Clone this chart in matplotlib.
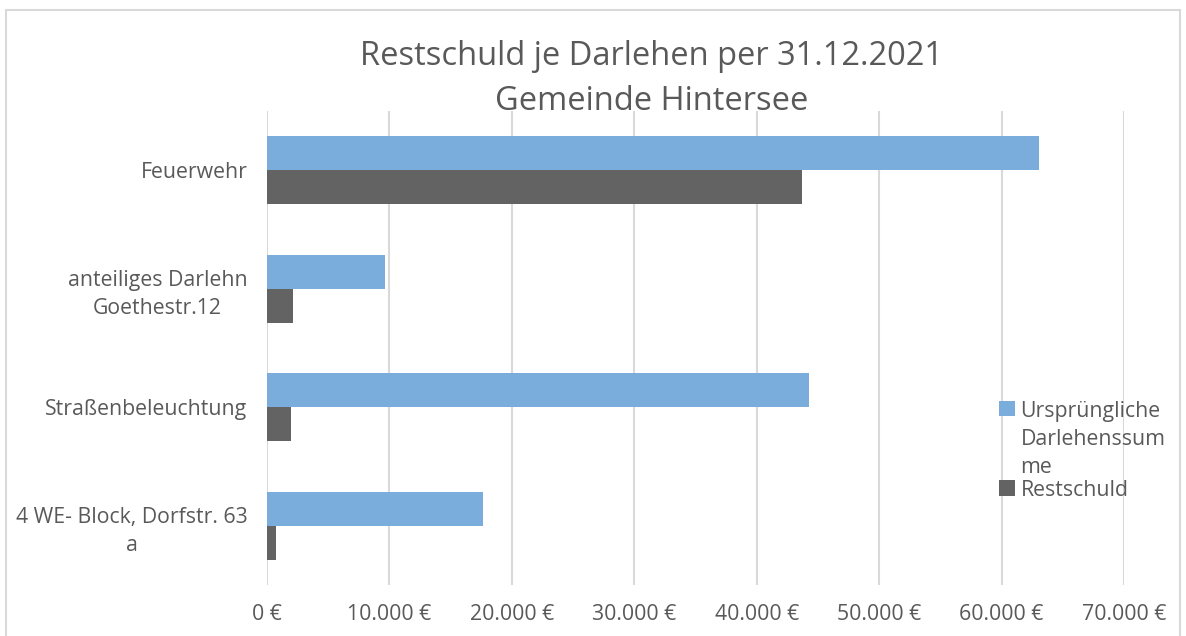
import matplotlib
matplotlib.use("Agg")
import matplotlib.pyplot as plt
import numpy as np
from matplotlib.patches import Rectangle

plt.rcParams["font.family"] = ["Open Sans", "DejaVu Sans"]

# Daten (von unten nach oben)
kategorien = ["4 WE- Block, Dorfstr. 63\na", "Straßenbeleuchtung",
              "anteiliges Darlehn\nGoethestr.12", "Feuerwehr"]
urspruenglich = [17640, 44300, 9650, 63040]
restschuld = [740, 1960, 2150, 43700]
serien = ["Ursprüngliche\nDarlehenssum\nme", "Restschuld"]
x_ticks = [0, 10000, 20000, 30000, 40000, 50000, 60000, 70000]

blau = "#7aaddc"
grau = "#636363"
textfarbe = "#595959"

fig = plt.figure(figsize=(11.86, 6.36), dpi=100)
fig.patches.append(Rectangle((6 / 1186, -0.05), 1174 / 1186, 1.05 - 10 / 636,
                             transform=fig.transFigure, fill=False,
                             edgecolor="#d9d9d9", linewidth=1.5))

ax = fig.add_axes([267 / 1186, 51 / 636, 857 / 1186, 474 / 636])

y = np.arange(len(kategorien))
h = 0.287
ax.barh(y + h / 2, urspruenglich, height=h, color=blau, label=serien[0], zorder=3)
ax.barh(y - h / 2, restschuld, height=h, color=grau, label=serien[1], zorder=3)

ax.set_xlim(0, 70000)
ax.set_ylim(-0.5, len(kategorien) - 0.5)
ax.set_xticks(x_ticks)
ax.set_xticklabels([f"{v:,}".replace(",", ".") + " €" for v in x_ticks])
ax.set_yticks(y)
ax.set_yticklabels(kategorien, multialignment="center", linespacing=1.45)
ax.grid(axis="x", color="#d9d9d9", linewidth=1.5, zorder=0)
for s in ax.spines.values():
    s.set_visible(False)
ax.tick_params(axis="both", length=0, labelsize=15.3, colors=textfarbe)
ax.tick_params(axis="x", pad=14)
ax.tick_params(axis="y", pad=14)

fig.text(652 / 1186, 1 - 79 / 636, "Restschuld je Darlehen per 31.12.2021\nGemeinde Hintersee",
         ha="center", va="center", fontsize=23.5, color=textfarbe, linespacing=1.5)

leg = ax.legend(loc="center left", bbox_to_anchor=(0.832, 0.283), frameon=False,
                fontsize=15.3, handlelength=0.75, handleheight=0.75,
                handletextpad=0.25, labelspacing=0.1)
for t in leg.get_texts():
    t.set_color(textfarbe)
    t.set_linespacing(1.45)
# Marker an der ersten Zeile ausrichten
for spalte in leg._legend_handle_box.get_children():
    for eintrag in spalte.get_children():
        eintrag.align = "top"

fig.savefig("out.png", dpi=100)
